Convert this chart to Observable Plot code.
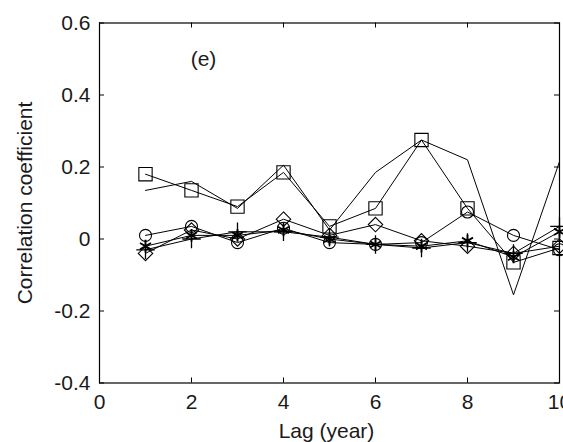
<!DOCTYPE html>
<html><head><meta charset="utf-8">
<script src="https://cdn.jsdelivr.net/npm/d3@7"></script>
<script src="https://cdn.jsdelivr.net/npm/@observablehq/plot@0.6"></script>
<style>
html,body{margin:0;padding:0;background:#fff;overflow:hidden;width:563px;height:442px}
#chart svg{overflow:hidden}
</style>
</head><body><div id="chart"></div>
<script>
// ---- data ----
const lags = [1, 2, 3, 4, 5, 6, 7, 8, 9, 10];
const squareSeries  = [0.18, 0.135, 0.09, 0.185, 0.035, 0.085, 0.275, 0.085, -0.065, -0.025];
const plainSeries   = [0.135, 0.16, 0.085, 0.205, 0.025, 0.185, 0.275, 0.22, -0.155, 0.215];
const circleSeries  = [0.01, 0.035, -0.01, 0.03, -0.01, -0.015, -0.01, 0.075, 0.01, -0.03];
const diamondSeries = [-0.04, 0.025, 0.0, 0.055, 0.01, 0.04, -0.005, -0.02, -0.04, -0.02];
const plusSeries    = [-0.03, 0.0, 0.02, 0.02, 0.005, -0.015, -0.025, -0.01, -0.04, 0.035];
const starSeries    = [-0.02, 0.01, 0.01, 0.025, 0.0, -0.015, -0.02, -0.005, -0.05, 0.02];

const xTicks = [0, 2, 4, 6, 8, 10];
const xTickLabels = ["0", "2", "4", "6", "8", "10"];
const yTicks = [-0.4, -0.2, 0, 0.2, 0.4, 0.6];
const yTickLabels = ["-0.4", "-0.2", "0", "0.2", "0.4", "0.6"];
const xTitle = "Lag (year)";
const yTitle = "Correlation coefficient";
const panelLabel = [{x: 2.26, y: 0.5, text: "(e)"}];

// ---- build tables ----
const seriesDefs = [
  {name: "square",  values: squareSeries,  symbol: "square", r: 7.5, sw: 1.1},
  {name: "plain",   values: plainSeries,   symbol: null},
  {name: "circle",  values: circleSeries,  symbol: "circle", r: 6, sw: 1.1},
  {name: "diamond", values: diamondSeries, symbol: "diamond2", r: 6.5, sw: 1.1},
  {name: "plus",    values: plusSeries,    symbol: "plus", r: 6, sw: 1.3},
  {name: "star",    values: starSeries,    symbol: "asterisk", r: 6, sw: 1.8}
];
const rows = seriesDefs.flatMap(s => s.values.map((v, i) => ({series: s.name, lag: lags[i], value: v})));

const W = 563, H = 442;
const mL = 99, mR = 4, mT = 22.5, mB = 59.5;
const frameH = H - mT - mB;
const font = "Liberation Sans, Arial, sans-serif";
const txt = "#1a1a1a";

const marks = [
  Plot.frame({stroke: "#000", strokeWidth: 1.2}),
  // ticks (inward, all four sides)
  Plot.tickX(xTicks, {x: d => d, stroke: "#000", insetTop: frameH - 5}),
  Plot.tickX(xTicks, {x: d => d, stroke: "#000", insetBottom: frameH - 5}),
  Plot.tickY(yTicks, {y: d => d, stroke: "#000", insetRight: (W - mL - mR) - 5}),
  Plot.tickY(yTicks, {y: d => d, stroke: "#000", insetLeft: (W - mL - mR) - 5}),
  // lines
  ...seriesDefs.map(s => Plot.line(rows.filter(d => d.series === s.name), {x: "lag", y: "value", stroke: "#000", strokeWidth: 1})),
  // markers
  ...seriesDefs.filter(s => s.symbol).map(s => Plot.dot(rows.filter(d => d.series === s.name), {
    x: "lag", y: "value", symbol: () => s.symbol, r: s.r, stroke: "#000", strokeWidth: s.sw, fill: "none"
  })),
  // tick labels
  Plot.text(xTicks, {x: d => d, text: (d, i) => xTickLabels[i], frameAnchor: "bottom", lineAnchor: "top", dy: 11, fontSize: 21, fill: txt, fontFamily: font}),
  Plot.text(yTicks, {y: d => d, text: (d, i) => yTickLabels[i], frameAnchor: "left", textAnchor: "end", dx: -9, fontSize: 21, fill: txt, fontFamily: font}),
  // axis titles
  Plot.text([xTitle], {x: () => 5, text: d => d, frameAnchor: "bottom", lineAnchor: "top", dy: 40, dx: -3, fontSize: 21, fill: txt, fontFamily: font}),
  Plot.text([yTitle], {y: () => 0.1, text: d => d, frameAnchor: "left", textAnchor: "middle", dx: -74, rotate: -90, fontSize: 21, fill: txt, fontFamily: font}),
  // panel label
  Plot.text(panelLabel, {x: "x", y: "y", text: "text", fontSize: 21, fill: txt, fontFamily: font})
];

const chart = Plot.plot({
  width: W, height: H,
  marginLeft: mL, marginRight: mR, marginTop: mT, marginBottom: mB,
  x: {domain: [0, 10], axis: null},
  y: {domain: [-0.4, 0.6], axis: null},
  style: {background: "#fff", fontFamily: font},
  marks
});
document.getElementById("chart").appendChild(chart);
</script>
</body></html>
